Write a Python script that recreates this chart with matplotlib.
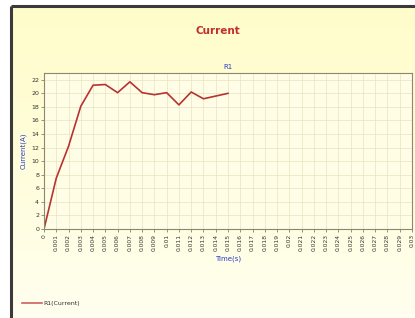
import numpy as np
import matplotlib
matplotlib.use("Agg")
import matplotlib.pyplot as plt
from matplotlib.lines import Line2D

# dados
time_s = [0.000, 0.001, 0.002, 0.003, 0.004, 0.005, 0.006, 0.007,
          0.008, 0.009, 0.010, 0.011, 0.012, 0.013, 0.014, 0.015]
current_a = [0.0, 7.5, 12.2, 18.1, 21.2, 21.3, 20.1, 21.7,
             20.1, 19.8, 20.1, 18.3, 20.2, 19.2, 19.6, 20.0]
x_ticks = [round(i * 0.001, 3) for i in range(31)]
x_labels = ["0"] + [f"{t:g}" if len(f"{t:g}") > 4 else f"{t:.3f}".rstrip("0") for t in x_ticks[1:]]
y_ticks = list(range(0, 23, 2))

W, H = 415, 318
fig = plt.figure(figsize=(W / 100, H / 100), dpi=100)
fig.patch.set_facecolor("white")

# fundo amarelo em degradê
bg = fig.add_axes([0, 0, 1, 1], zorder=-10)
grad = np.linspace(0, 1, 256).reshape(-1, 1)
top = np.array([1.0, 0.99, 0.80])
bot = np.array([1.0, 1.0, 0.94])
img = top + (bot - top) * grad[..., None] ** 1.3
bg.imshow(img, aspect="auto", extent=[11 / W, 1, 0, 1 - 6 / H], origin="upper")
bg.set_xlim(0, 1)
bg.set_ylim(0, 1)
bg.axis("off")
# moldura escura
bg.plot([11 / W, 11 / W], [0, 1 - 6 / H], color="#3a3a3a", lw=2.2, solid_capstyle="butt")
bg.plot([11 / W, 1], [1 - 6 / H, 1 - 6 / H], color="#3a3a3a", lw=2.2, solid_capstyle="butt")

ax = fig.add_axes([44 / W, 1 - 229 / H, 368 / W, 156 / H])
ax.set_facecolor("#fffde6")
ax.plot(time_s, current_a, color="#b83232", lw=1.2)
ax.set_xlim(0, 0.03)
ax.set_ylim(0, 23)
ax.set_xticks(x_ticks)
ax.set_xticklabels(x_labels, rotation=90, fontsize=4.3, color="#333333")
ax.set_yticks(y_ticks)
ax.set_yticklabels([str(v) for v in y_ticks], fontsize=4.5, color="#333333")
ax.tick_params(length=2, width=0.5, pad=1.5, colors="#666666", labelcolor="#333333")
ax.grid(True, color="#e6e4c0", lw=0.5)
for s in ax.spines.values():
    s.set_color("#8a8a6a")
    s.set_linewidth(0.8)
ax.set_xlabel("Time(s)", fontsize=5, color="#2a3cc8", labelpad=3)
ax.set_ylabel("Current(A)", fontsize=5, color="#2a3cc8", labelpad=3)
ax.set_title("R1", fontsize=5, color="#2a3cc8", pad=3)

fig.text(218 / W, 1 - 31 / H, "Current", fontsize=7.5, fontweight="bold",
         color="#c03030", ha="center", va="center")

# legenda
fig.add_artist(Line2D([22 / W, 42 / W], [1 - 303 / H, 1 - 303 / H],
                      color="#d06060", lw=1.2))
fig.text(43 / W, 1 - 303 / H, "R1(Current)", fontsize=4.5, color="#333333",
         va="center", ha="left")

fig.savefig("out.png", dpi=100)
